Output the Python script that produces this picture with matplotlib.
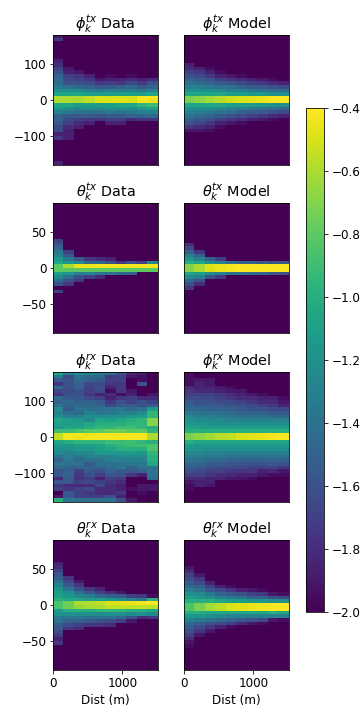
import matplotlib
matplotlib.use('Agg') #no display here
import matplotlib.pyplot as plt
import numpy as np

plt.rcParams['font.size'] = 12

e = [-2] * 10 #all background row

#heatmap values, rows listed top to bottom, 10 distance bins per row
phi_tx_data = [
    [-1.9, -2, -2, -2, -2, -2, -2, -2, -2, -2],
    [-1.75, -2, -2, -2, -2, -2, -2, -2, -2, -2],
    e, e, e, e, e,
    [-1.85, -2, -2, -2, -2, -2, -2, -2, -2, -2],
    [-1.8, -2, -2, -2, -2, -2, -2, -2, -2, -2],
    [-1.7, -1.9, -2, -2, -2, -2, -2, -2, -2, -2],
    [-1.6, -1.85, -1.9, -2, -2, -2, -2, -2, -2, -2],
    [-1.5, -1.7, -1.75, -1.85, -2, -1.95, -2, -1.95, -2, -2],
    [-1.45, -1.65, -1.7, -1.75, -1.9, -1.85, -1.85, -1.8, -1.85, -1.8],
    [-1.45, -1.6, -1.6, -1.65, -1.75, -1.7, -1.75, -1.65, -1.75, -1.6],
    [-1.35, -1.4, -1.45, -1.5, -1.55, -1.55, -1.5, -1.45, -1.55, -1.5],
    [-1.2, -1.2, -1.25, -1.3, -1.35, -1.3, -1.35, -1.3, -1.35, -1.3],
    [-1.05, -1.05, -1.05, -1.1, -1.1, -1.1, -1.1, -1.1, -1.1, -1.05],
    [-0.6, -0.6, -0.6, -0.55, -0.5, -0.5, -0.5, -0.5, -0.42, -0.42],
    [-0.6, -0.6, -0.6, -0.55, -0.5, -0.47, -0.47, -0.5, -0.42, -0.45],
    [-1.05, -1.05, -1.1, -1.1, -1.1, -1.1, -1.05, -1.05, -0.95, -0.9],
    [-1.15, -1.2, -1.25, -1.2, -1.25, -1.2, -1.2, -1.2, -1.15, -1.1],
    [-1.3, -1.35, -1.4, -1.4, -1.4, -1.35, -1.4, -1.35, -1.3, -1.3],
    [-1.5, -1.55, -1.55, -1.55, -1.6, -1.55, -1.55, -1.5, -1.5, -1.45],
    [-1.5, -1.65, -1.7, -1.75, -1.75, -1.7, -1.7, -1.8, -1.75, -1.75],
    [-1.55, -1.7, -1.8, -1.85, -2, -1.85, -1.85, -2, -2, -2],
    [-1.65, -1.8, -1.85, -2, -2, -2, -2, -2, -2, -2],
    [-1.65, -1.85, -2, -2, -2, -2, -2, -2, -2, -2],
    [-1.85, -1.85, -2, -2, -2, -2, -2, -2, -2, -2],
    [-1.75, -1.85, -2, -2, -2, -2, -2, -2, -2, -2],
    e, e, e, e, e, e,
    [-1.85, -2, -2, -2, -2, -2, -2, -2, -2, -2],
]
phi_tx_model = [
    e, e, e, e, e, e, e, e,
    [-1.85, -2, -2, -2, -2, -2, -2, -2, -2, -2],
    [-1.8, -1.85, -1.95, -2, -2, -2, -2, -2, -2, -2],
    [-1.7, -1.75, -1.85, -1.95, -2, -2, -2, -2, -2, -2],
    [-1.6, -1.65, -1.75, -1.85, -1.9, -1.95, -2, -2, -2, -2],
    [-1.5, -1.55, -1.6, -1.7, -1.75, -1.8, -1.85, -1.9, -1.95, -2],
    [-1.4, -1.45, -1.5, -1.55, -1.6, -1.65, -1.7, -1.75, -1.8, -1.85],
    [-1.3, -1.3, -1.35, -1.4, -1.4, -1.5, -1.55, -1.55, -1.6, -1.65],
    [-1.2, -1.2, -1.2, -1.25, -1.3, -1.3, -1.35, -1.4, -1.4, -1.45],
    [-1.05, -1.05, -1.05, -1.05, -1.1, -1.1, -1.15, -1.15, -1.2, -1.2],
    [-0.72, -0.68, -0.62, -0.58, -0.52, -0.5, -0.47, -0.45, -0.42, -0.41],
    [-0.72, -0.68, -0.62, -0.58, -0.52, -0.5, -0.47, -0.45, -0.42, -0.41],
    [-1.05, -1.05, -1.05, -1.05, -1.1, -1.1, -1.15, -1.15, -1.2, -1.2],
    [-1.2, -1.2, -1.2, -1.25, -1.3, -1.3, -1.35, -1.4, -1.4, -1.45],
    [-1.3, -1.3, -1.35, -1.4, -1.4, -1.5, -1.55, -1.55, -1.6, -1.65],
    [-1.4, -1.45, -1.5, -1.55, -1.6, -1.65, -1.7, -1.75, -1.8, -1.85],
    [-1.5, -1.55, -1.6, -1.7, -1.75, -1.8, -1.85, -1.9, -1.95, -2],
    [-1.6, -1.65, -1.75, -1.85, -1.9, -1.95, -2, -2, -2, -2],
    [-1.75, -1.8, -1.85, -1.95, -2, -2, -2, -2, -2, -2],
    [-1.9, -1.9, -1.95, -2, -2, -2, -2, -2, -2, -2],
    e, e, e, e, e, e, e, e, e,
]
theta_tx_data = [
    e, e, e, e, e, e, e, e, e, e,
    [-1.7, -2, -2, -2, -2, -2, -2, -2, -2, -2],
    [-1.6, -2, -2, -2, -2, -2, -2, -2, -2, -2],
    [-1.5, -2, -2, -2, -2, -2, -2, -2, -2, -2],
    [-1.35, -1.7, -2, -2, -2, -2, -2, -2, -2, -2],
    [-1.3, -1.55, -2, -2, -2, -2, -2, -2, -2, -2],
    [-1.15, -1.35, -1.55, -1.75, -1.8, -1.85, -2, -2, -2, -2],
    [-1.05, -1.15, -1.25, -1.45, -1.45, -1.6, -1.75, -1.6, -1.7, -1.25],
    [-0.8, -0.6, -0.45, -0.45, -0.42, -0.42, -0.42, -0.42, -0.42, -0.42],
    [-0.8, -0.8, -0.8, -0.8, -0.8, -0.8, -0.8, -0.8, -0.8, -0.8],
    [-1.1, -1.15, -1.3, -1.3, -1.4, -1.4, -1.45, -1.5, -2, -2],
    [-1.25, -1.4, -1.6, -1.7, -1.8, -2, -2, -2, -2, -2],
    [-1.45, -1.6, -1.75, -2, -2, -2, -2, -2, -2, -2],
    [-1.6, -1.75, -2, -2, -2, -2, -2, -2, -2, -2],
    e,
    [-1.7, -2, -2, -2, -2, -2, -2, -2, -2, -2],
    e, e, e, e, e, e, e, e, e, e, e,
]
theta_tx_model = [
    e, e, e, e, e, e, e, e, e, e, e,
    [-1.8, -2, -2, -2, -2, -2, -2, -2, -2, -2],
    [-1.65, -2, -2, -2, -2, -2, -2, -2, -2, -2],
    [-1.5, -1.75, -2, -2, -2, -2, -2, -2, -2, -2],
    [-1.3, -1.5, -2, -2, -2, -2, -2, -2, -2, -2],
    [-1.15, -1.3, -1.5, -1.7, -2, -2, -2, -2, -2, -2],
    [-1.0, -1.05, -1.2, -1.3, -1.4, -1.5, -1.5, -1.55, -1.6, -1.55],
    [-0.7, -0.6, -0.48, -0.45, -0.42, -0.41, -0.41, -0.41, -0.41, -0.41],
    [-0.7, -0.6, -0.5, -0.45, -0.42, -0.41, -0.41, -0.41, -0.41, -0.41],
    [-1.05, -1.1, -1.25, -1.3, -1.4, -1.4, -1.45, -1.5, -1.55, -1.6],
    [-1.25, -1.3, -1.6, -1.75, -2, -2, -2, -2, -2, -2],
    [-1.45, -1.6, -2, -2, -2, -2, -2, -2, -2, -2],
    [-1.6, -1.8, -2, -2, -2, -2, -2, -2, -2, -2],
    [-1.75, -2, -2, -2, -2, -2, -2, -2, -2, -2],
    e, e, e, e, e, e, e, e, e, e, e, e,
]
phi_rx_data = [
    [-1.05, -1.3, -1.25, -1.3, -1.4, -1.4, -1.6, -1.85, -1.9, -2],
    [-1.35, -1.65, -1.4, -1.45, -1.45, -1.75, -1.7, -1.9, -1.95, -2],
    [-1.55, -1.6, -1.45, -1.5, -1.55, -1.7, -1.7, -2, -1.95, -2],
    [-1.75, -1.6, -1.5, -1.65, -1.65, -1.75, -1.75, -2, -1.6, -2],
    [-1.45, -1.6, -1.5, -1.7, -1.6, -1.85, -1.75, -2, -2, -2],
    [-1.65, -1.65, -1.6, -1.7, -1.65, -1.95, -1.75, -1.9, -2, -2],
    [-1.75, -1.6, -1.6, -1.75, -1.85, -1.8, -1.95, -1.85, -2, -1.9],
    [-1.45, -1.55, -1.55, -1.65, -1.7, -1.85, -1.75, -1.7, -1.8, -1.8],
    [-1.5, -1.45, -1.5, -1.5, -1.55, -1.75, -1.6, -1.7, -1.6, -1.7],
    [-1.4, -1.5, -1.45, -1.45, -1.5, -1.65, -1.55, -1.55, -1.6, -1.55],
    [-1.25, -1.55, -1.4, -1.4, -1.4, -1.4, -1.35, -1.45, -1.4, -1.1],
    [-1.3, -1.4, -1.45, -1.3, -1.4, -1.35, -1.3, -1.3, -1.25, -0.95],
    [-1.2, -1.3, -1.3, -1.2, -1.2, -1.2, -1.2, -1.15, -1.1, -0.95],
    [-1.05, -1.1, -1.15, -1.25, -1.05, -1.1, -1.05, -1.0, -0.95, -0.7],
    [-1.1, -1.1, -1.1, -1.05, -1.0, -1.0, -1.0, -0.95, -0.95, -0.7],
    [-1.15, -1.05, -1.05, -1.0, -0.95, -0.95, -0.9, -0.9, -0.95, -1.0],
    [-0.9, -0.9, -0.85, -0.8, -0.8, -0.75, -0.75, -0.8, -0.8, -0.95],
    [-0.55, -0.42, -0.42, -0.45, -0.42, -0.42, -0.42, -0.42, -0.42, -0.6],
    [-0.55, -0.42, -0.45, -0.42, -0.42, -0.42, -0.42, -0.42, -0.42, -0.6],
    [-1.05, -1.0, -0.95, -0.95, -0.95, -0.9, -0.9, -0.9, -0.95, -1.0],
    [-1.15, -1.15, -1.1, -1.1, -1.05, -1.0, -0.95, -0.9, -0.9, -0.85],
    [-1.2, -1.2, -1.15, -1.15, -1.1, -1.05, -1.0, -1.0, -1.0, -0.85],
    [-1.25, -1.3, -1.25, -1.25, -1.15, -1.15, -1.15, -1.1, -1.15, -0.95],
    [-1.4, -1.3, -1.4, -1.3, -1.3, -1.3, -1.25, -1.25, -1.25, -1.0],
    [-1.5, -1.35, -1.45, -1.4, -1.4, -1.3, -1.3, -1.3, -1.3, -1.0],
    [-1.4, -1.4, -1.4, -1.55, -1.4, -1.4, -1.4, -1.35, -1.35, -1.05],
    [-1.45, -1.5, -1.5, -1.5, -1.5, -1.45, -1.35, -1.5, -1.4, -1.4],
    [-1.6, -1.5, -1.7, -1.55, -1.6, -1.5, -1.55, -1.55, -1.5, -1.4],
    [-1.55, -1.5, -1.75, -1.6, -1.7, -1.6, -1.6, -1.75, -1.85, -1.4],
    [-1.8, -1.55, -1.75, -1.7, -1.85, -1.7, -1.75, -2, -2, -1.45],
    [-1.55, -1.55, -1.7, -1.65, -1.7, -1.75, -1.8, -2, -2, -2],
    [-1.75, -1.8, -1.8, -1.8, -1.65, -1.8, -1.85, -2, -1.9, -1.9],
    [-1.7, -1.75, -1.7, -1.65, -1.8, -1.8, -1.85, -1.95, -1.9, -1.9],
    [-2, -1.55, -1.7, -1.75, -1.8, -1.8, -1.75, -2, -1.95, -2],
    [-1.9, -1.55, -1.7, -1.7, -1.7, -1.6, -1.85, -2, -2, -2],
    [-1.0, -1.35, -1.4, -1.4, -1.4, -1.4, -1.6, -1.9, -2, -2],
]
phi_rx_model = [
    [-1.95, -2, -2, -2, -2, -2, -2, -2, -2, -2],
    [-1.95, -2, -2, -2, -2, -2, -2, -2, -2, -2],
    [-1.95, -1.9, -1.9, -2, -2, -2, -2, -2, -2, -2],
    [-1.95, -1.85, -1.9, -2, -2, -2, -2, -2, -2, -2],
    [-1.8, -1.85, -1.85, -1.9, -1.95, -2, -2, -2, -2, -2],
    [-1.75, -1.8, -1.8, -1.85, -1.9, -1.9, -2, -2, -2, -2],
    [-1.7, -1.7, -1.7, -1.75, -1.8, -1.85, -1.9, -1.95, -2, -2],
    [-1.65, -1.65, -1.65, -1.7, -1.75, -1.8, -1.8, -1.85, -1.85, -1.95],
    [-1.55, -1.6, -1.6, -1.65, -1.65, -1.7, -1.75, -1.8, -1.8, -1.9],
    [-1.5, -1.55, -1.55, -1.55, -1.6, -1.6, -1.65, -1.7, -1.75, -1.85],
    [-1.45, -1.45, -1.5, -1.5, -1.5, -1.55, -1.6, -1.6, -1.65, -1.65],
    [-1.35, -1.4, -1.4, -1.4, -1.45, -1.5, -1.5, -1.5, -1.55, -1.55],
    [-1.25, -1.3, -1.3, -1.35, -1.35, -1.4, -1.4, -1.4, -1.45, -1.45],
    [-1.2, -1.25, -1.25, -1.25, -1.3, -1.3, -1.3, -1.3, -1.3, -1.3],
    [-1.15, -1.15, -1.2, -1.2, -1.2, -1.2, -1.2, -1.2, -1.2, -1.2],
    [-1.05, -1.1, -1.1, -1.1, -1.1, -1.1, -1.1, -1.1, -1.1, -1.1],
    [-1.0, -1.0, -1.0, -1.0, -1.0, -1.0, -1.0, -1.0, -1.0, -1.0],
    [-0.72, -0.68, -0.62, -0.58, -0.55, -0.5, -0.47, -0.45, -0.43, -0.41],
    [-0.72, -0.68, -0.62, -0.58, -0.55, -0.5, -0.47, -0.45, -0.43, -0.41],
    [-1.0, -1.05, -1.05, -1.05, -1.05, -1.05, -1.05, -1.05, -1.05, -1.05],
    [-1.1, -1.15, -1.15, -1.15, -1.15, -1.15, -1.15, -1.15, -1.15, -1.15],
    [-1.15, -1.2, -1.2, -1.2, -1.2, -1.2, -1.2, -1.2, -1.2, -1.2],
    [-1.25, -1.25, -1.3, -1.3, -1.3, -1.3, -1.3, -1.3, -1.3, -1.3],
    [-1.3, -1.35, -1.35, -1.35, -1.4, -1.4, -1.4, -1.4, -1.4, -1.4],
    [-1.4, -1.4, -1.45, -1.45, -1.5, -1.5, -1.5, -1.5, -1.5, -1.5],
    [-1.45, -1.5, -1.55, -1.55, -1.55, -1.6, -1.6, -1.6, -1.55, -1.6],
    [-1.55, -1.55, -1.6, -1.65, -1.65, -1.65, -1.7, -1.7, -1.7, -1.75],
    [-1.6, -1.65, -1.7, -1.7, -1.75, -1.75, -1.75, -1.85, -1.8, -1.9],
    [-1.7, -1.7, -1.75, -1.8, -1.8, -1.85, -1.85, -1.9, -1.95, -1.95],
    [-1.8, -1.8, -1.85, -1.85, -1.9, -1.9, -1.95, -2, -2, -2],
    [-1.9, -1.85, -1.85, -2, -2, -2, -2, -2, -2, -2],
    [-1.95, -1.85, -1.9, -2, -2, -2, -2, -2, -2, -2],
    [-1.95, -2, -2, -2, -2, -2, -2, -2, -2, -2],
    e, e, e,
]
theta_rx_data = [
    e, e, e, e, e, e,
    [-1.85, -2, -2, -2, -2, -2, -2, -2, -2, -2],
    [-1.8, -2, -2, -2, -2, -2, -2, -2, -2, -2],
    [-1.7, -2, -2, -2, -2, -2, -2, -2, -2, -2],
    [-1.6, -2, -2, -2, -2, -2, -2, -2, -2, -2],
    [-1.55, -1.75, -2, -2, -2, -2, -2, -2, -2, -2],
    [-1.4, -1.65, -1.9, -2, -2, -2, -2, -2, -2, -2],
    [-1.3, -1.55, -1.75, -2, -2, -2, -2, -2, -2, -2],
    [-1.2, -1.4, -1.6, -1.75, -1.85, -2, -2, -2, -2, -2],
    [-1.1, -1.2, -1.4, -1.55, -1.7, -1.8, -1.9, -2, -2, -2],
    [-1.1, -1.15, -1.25, -1.3, -1.45, -1.5, -1.55, -1.7, -1.75, -1.95],
    [-1.0, -1.05, -1.05, -1.1, -1.1, -1.15, -1.2, -1.3, -1.35, -1.0],
    [-0.85, -0.75, -0.6, -0.58, -0.55, -0.5, -0.47, -0.45, -0.42, -0.4],
    [-0.85, -0.75, -0.65, -0.6, -0.6, -0.55, -0.55, -0.55, -0.55, -0.55],
    [-1.1, -1.0, -1.0, -1.0, -0.95, -0.95, -0.95, -1.0, -1.0, -1.05],
    [-1.2, -1.2, -1.2, -1.2, -1.25, -1.2, -1.2, -1.25, -1.2, -1.25],
    [-1.35, -1.35, -1.35, -1.4, -1.4, -1.4, -1.45, -1.6, -1.8, -1.75],
    [-1.4, -1.5, -1.5, -1.55, -1.6, -1.65, -1.7, -1.9, -2, -2],
    [-1.55, -1.65, -1.7, -1.75, -1.75, -1.8, -2, -2, -2, -2],
    [-1.55, -1.75, -1.8, -2, -2, -2, -2, -2, -2, -2],
    [-1.65, -2, -2, -2, -2, -2, -2, -2, -2, -2],
    [-1.75, -2, -2, -2, -2, -2, -2, -2, -2, -2],
    [-1.85, -2, -2, -2, -2, -2, -2, -2, -2, -2],
    [-1.75, -2, -2, -2, -2, -2, -2, -2, -2, -2],
    e, e, e, e, e, e, e,
]
theta_rx_model = [
    e, e, e, e, e, e, e,
    [-1.9, -2, -2, -2, -2, -2, -2, -2, -2, -2],
    [-1.8, -2, -2, -2, -2, -2, -2, -2, -2, -2],
    [-1.7, -1.9, -2, -2, -2, -2, -2, -2, -2, -2],
    [-1.65, -1.75, -2, -2, -2, -2, -2, -2, -2, -2],
    [-1.55, -1.65, -1.85, -2, -2, -2, -2, -2, -2, -2],
    [-1.45, -1.5, -1.7, -1.85, -1.95, -2, -2, -2, -2, -2],
    [-1.3, -1.4, -1.55, -1.65, -1.75, -1.85, -1.9, -1.95, -2, -2],
    [-1.2, -1.25, -1.35, -1.5, -1.55, -1.6, -1.7, -1.75, -1.9, -1.95],
    [-1.1, -1.15, -1.2, -1.3, -1.35, -1.4, -1.5, -1.5, -1.6, -1.65],
    [-1.0, -1.0, -1.0, -1.05, -1.1, -1.1, -1.15, -1.15, -1.2, -1.2],
    [-0.85, -0.72, -0.62, -0.56, -0.5, -0.47, -0.45, -0.43, -0.41, -0.41],
    [-0.85, -0.72, -0.62, -0.56, -0.5, -0.47, -0.45, -0.43, -0.41, -0.41],
    [-1.0, -1.0, -1.05, -1.05, -1.05, -1.05, -1.05, -1.05, -1.0, -1.05],
    [-1.15, -1.15, -1.2, -1.25, -1.3, -1.3, -1.3, -1.3, -1.3, -1.3],
    [-1.3, -1.35, -1.4, -1.45, -1.5, -1.55, -1.6, -1.65, -1.9, -1.95],
    [-1.45, -1.5, -1.6, -1.65, -1.7, -1.8, -1.9, -1.95, -2, -2],
    [-1.55, -1.65, -1.75, -1.85, -1.95, -2, -2, -2, -2, -2],
    [-1.6, -1.75, -1.9, -2, -2, -2, -2, -2, -2, -2],
    [-1.7, -1.9, -2, -2, -2, -2, -2, -2, -2, -2],
    [-1.8, -2, -2, -2, -2, -2, -2, -2, -2, -2],
    [-1.9, -2, -2, -2, -2, -2, -2, -2, -2, -2],
    [-1.95, -2, -2, -2, -2, -2, -2, -2, -2, -2],
    e, e, e, e, e, e,
]

data_panels = [phi_tx_data, phi_tx_model, theta_tx_data, theta_tx_model,
               phi_rx_data, phi_rx_model, theta_rx_data, theta_rx_model]
titles = [r'$\phi_k^{tx}$ Data', r'$\phi_k^{tx}$ Model',
          r'$\theta_k^{tx}$ Data', r'$\theta_k^{tx}$ Model',
          r'$\phi_k^{rx}$ Data', r'$\phi_k^{rx}$ Model',
          r'$\theta_k^{rx}$ Data', r'$\theta_k^{rx}$ Model']
angle_max = [180, 180, 90, 90, 180, 180, 90, 90]
angle_ticks = [[-100, 0, 100], [-100, 0, 100], [-50, 0, 50], [-50, 0, 50],
               [-100, 0, 100], [-100, 0, 100], [-50, 0, 50], [-50, 0, 50]]
dist_max = 1510
dist_ticks = [0, 1000]
cbar_ticks = [-2.0, -1.8, -1.6, -1.4, -1.2, -1.0, -0.8, -0.6, -0.4]

W = 360
H = 720
#panel edges in pixels of the final picture
col_left = [53.3, 184.3]
col_right = [157.7, 288.7]
row_top = [35, 203.3, 371.7, 540.3]
row_bot = [165.3, 333.3, 502.3, 670]


def px_axes(fig, left, right, top, bot):
    return fig.add_axes([left / W, 1 - bot / H, (right - left) / W, (bot - top) / H])


fig = plt.figure(figsize=(5, 10), dpi=72)

for i in range(8):
    r = i // 2
    c = i % 2
    ax = px_axes(fig, col_left[c], col_right[c], row_top[r], row_bot[r])
    im = ax.imshow(np.array(data_panels[i]), aspect='auto', vmin=-2, vmax=-0.4, cmap='viridis',
                   extent=[0, dist_max, -angle_max[i], angle_max[i]])
    ax.set_title(titles[i])
    if c == 0:
        ax.set_yticks(angle_ticks[i])
    else:
        ax.set_yticks([])
    if r == 3:
        ax.set_xticks(dist_ticks)
        ax.set_xlabel('Dist (m)')
    else:
        ax.set_xticks([])

cax = px_axes(fig, 306.3, 324.3, 108.3, 612)
fig.colorbar(im, cax=cax, ticks=cbar_ticks)

fig.savefig('out.png', dpi=72)
